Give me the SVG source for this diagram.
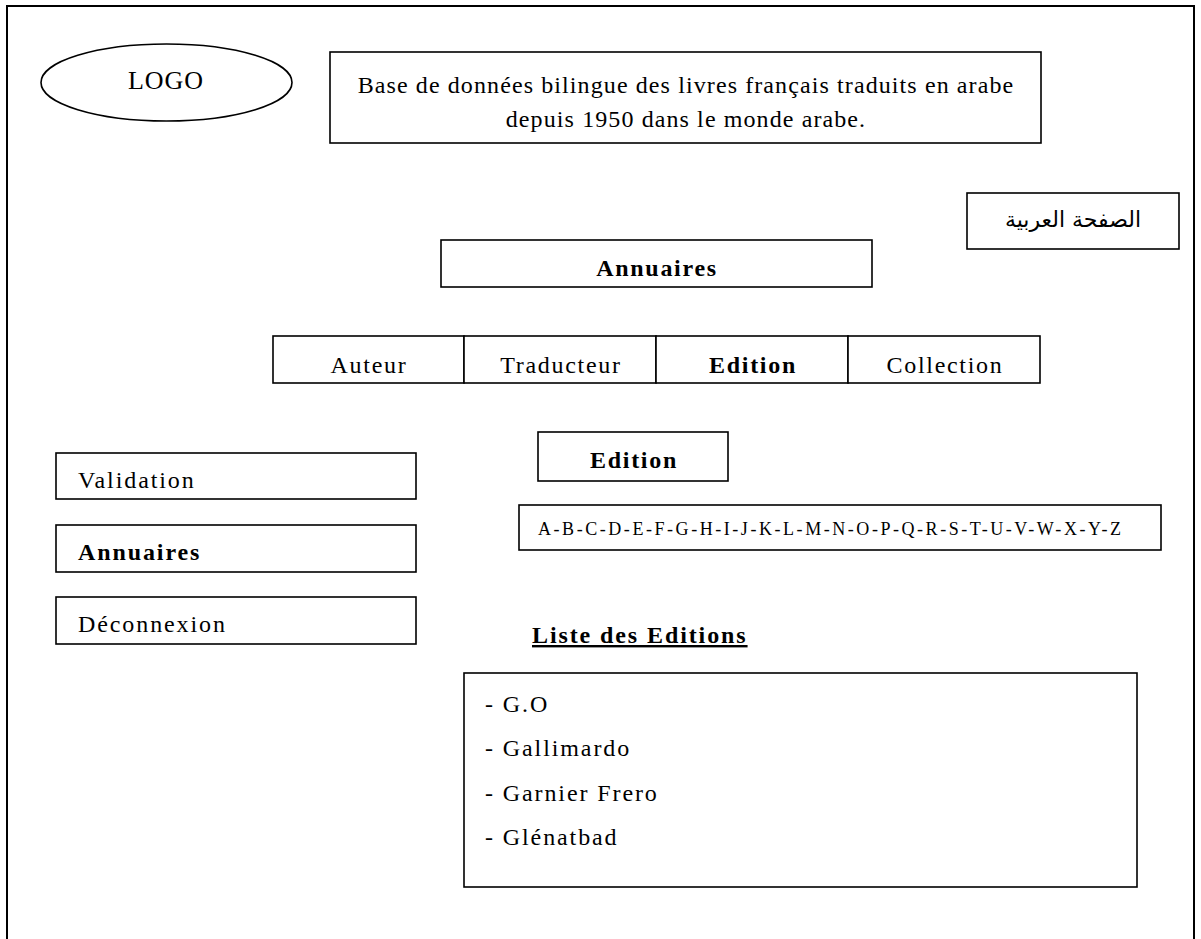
<svg xmlns="http://www.w3.org/2000/svg" width="1201" height="939" viewBox="0 0 1201 939">
  <style>
    .box { fill: #ffffff; stroke: #000000; stroke-width: 1.6; }
    .frame { fill: none; stroke: #000000; stroke-width: 2; }
    .t { font-family: "Liberation Serif", "Times New Roman", serif; font-size: 24px; fill: #000000; letter-spacing: 1.9px; }
    .c { text-anchor: middle; }
    .b { font-weight: bold; }
    .title { letter-spacing: 1.1px; }
    .tab { letter-spacing: 1.7px; }
    .small { font-size: 18px; letter-spacing: 2.55px; }
    .ar { font-family: "DejaVu Sans", "Noto Sans", sans-serif; font-size: 22px; fill: #000000; }
  </style>

  <!-- page frame -->
  <rect class="frame" x="7" y="6" width="1187" height="960"/>

  <g id="logo">
    <ellipse class="box" cx="166.5" cy="82.5" rx="125.5" ry="38.5"/>
    <text class="t c" x="166" y="89" style="font-size:26px;letter-spacing:1px">LOGO</text>
  </g>

  <g id="title">
    <rect class="box" x="330" y="52" width="711" height="91"/>
    <text class="t c title" x="686" y="93">Base de données bilingue des livres français traduits en arabe</text>
    <text class="t c title" x="686" y="127">depuis 1950 dans le monde arabe.</text>
  </g>

  <g id="arabic-page">
    <rect class="box" x="967" y="193" width="212" height="56"/>
    <text class="ar c" x="1073" y="227" direction="rtl">الصفحة العربية</text>
  </g>

  <g id="annuaires-header">
    <rect class="box" x="441" y="240" width="431" height="47"/>
    <text class="t c b tab" x="657" y="276">Annuaires</text>
  </g>

  <g id="tabs">
    <g id="tab-auteur">
      <rect class="box" x="273" y="336" width="191" height="47"/>
      <text class="t c tab" x="369" y="373">Auteur</text>
    </g>
    <g id="tab-traducteur">
      <rect class="box" x="464" y="336" width="192" height="47"/>
      <text class="t c tab" x="561" y="373">Traducteur</text>
    </g>
    <g id="tab-edition">
      <rect class="box" x="656" y="336" width="192" height="47"/>
      <text class="t c b tab" x="753" y="373">Edition</text>
    </g>
    <g id="tab-collection">
      <rect class="box" x="848" y="336" width="192" height="47"/>
      <text class="t c tab" x="945" y="373">Collection</text>
    </g>
  </g>

  <g id="menu-validation">
    <rect class="box" x="56" y="453" width="360" height="46"/>
    <text class="t" x="78" y="488">Validation</text>
  </g>
  <g id="menu-annuaires">
    <rect class="box" x="56" y="525" width="360" height="47"/>
    <text class="t b" x="78" y="560">Annuaires</text>
  </g>
  <g id="menu-deconnexion">
    <rect class="box" x="56" y="597" width="360" height="47"/>
    <text class="t" x="78" y="632">Déconnexion</text>
  </g>

  <g id="edition-heading">
    <rect class="box" x="538" y="432" width="190" height="49"/>
    <text class="t c b tab" x="634" y="468">Edition</text>
  </g>

  <g id="alphabet">
    <rect class="box" x="519" y="505" width="642" height="45"/>
    <text class="t small" x="538" y="535">A-B-C-D-E-F-G-H-I-J-K-L-M-N-O-P-Q-R-S-T-U-V-W-X-Y-Z</text>
  </g>

  <g id="liste-title">
    <text class="t b" x="532" y="643" text-decoration="underline">Liste des Editions</text>
  </g>

  <g id="liste-editions">
    <rect class="box" x="464" y="673" width="673" height="214"/>
    <text class="t" x="485" y="712">- G.O</text>
    <text class="t" x="485" y="756">- Gallimardo</text>
    <text class="t" x="485" y="801">- Garnier Frero</text>
    <text class="t" x="485" y="845">- Glénatbad</text>
  </g>

  <!-- no connectors in this layout -->
  <g id="connectors"/>
</svg>
